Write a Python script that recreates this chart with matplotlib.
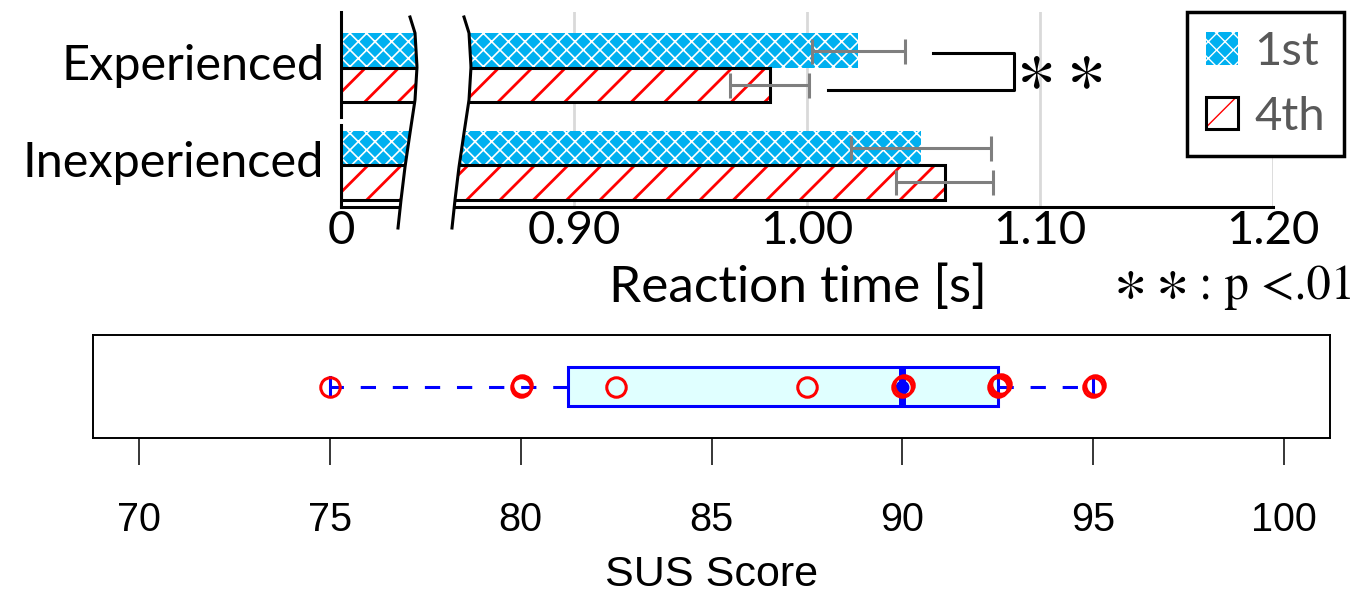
import numpy as np
import matplotlib
matplotlib.use("Agg")
import matplotlib.pyplot as plt
from matplotlib.patches import Patch, Polygon
from matplotlib.lines import Line2D
from matplotlib.legend_handler import HandlerTuple

# reaction time (top chart)
groups = ["Experienced", "Inexperienced"]
sessions = ["1st", "4th"]
rt_mean_1st = [1.022, 1.049]
rt_err_1st = [0.020, 0.030]
rt_mean_4th = [0.984, 1.059]
rt_err_4th = [0.017, 0.021]
rt_ticks = [0.90, 1.00, 1.10, 1.20]

# SUS scores (bottom chart)
sus_scores = [75, 80, 80, 82.5, 87.5, 90, 90, 92.5, 92.5, 92.5, 95, 95]
sus_ticks = [70, 75, 80, 85, 90, 95, 100]

W, H = 1360, 594


def fx(px):
    return px / W


def fy(py):
    return 1 - py / H


def fivenum(vals):
    # Tukey hinges, as R boxplot does
    x = np.sort(np.asarray(vals, dtype=float))
    n = len(x)
    n4 = np.floor((n + 3) / 2) / 2
    d = np.array([1, n4, (n + 1) / 2, n + 1 - n4, n]) - 1
    return 0.5 * (x[np.floor(d).astype(int)] + x[np.ceil(d).astype(int)])


plt.rcParams["mathtext.fontset"] = "stix"
fig = plt.figure(figsize=(W / 100, H / 100), dpi=100)

blue = "#00b0f0"
gray_txt = "#595959"
lw = 2.2
tick_fs = 34

# ---- top chart: broken x axis ----
ax_l = fig.add_axes([fx(341), fy(207), fx(420) - fx(341), fy(12) - fy(207)])
ax_r = fig.add_axes([fx(446), fy(207), fx(1273) - fx(446), fy(12) - fy(207)])

y = np.arange(len(groups))
h = 0.354
for ax in (ax_l, ax_r):
    with plt.rc_context({"hatch.linewidth": 1.2}):
        ax.barh(y - h / 2, rt_mean_1st, h, color=blue, edgecolor="white", hatch="xx", linewidth=0, zorder=2)
    with plt.rc_context({"hatch.linewidth": 2.0}):
        ax.barh(y + h / 2, rt_mean_4th, h, color="white", edgecolor="red", hatch="/", linewidth=0, zorder=2)
    ax.barh(y + h / 2, rt_mean_4th, h, color="none", edgecolor="black", linewidth=lw, zorder=3)
    ax.set_ylim(1.43, -0.573)
    ax.spines[["top", "right", "left"]].set_visible(False)
    ax.spines["bottom"].set_linewidth(lw)
    ax.tick_params(axis="x", length=0, labelsize=tick_fs, pad=2)

ax_l.set_xlim(0, 0.1)
ax_l.set_xticks([0], ["0"], family="Lato")
# category labels sit a little above the group centre in the original
ax_l.set_yticks(y - 0.06, groups, family="Lato")
ax_l.tick_params(axis="y", length=0, labelsize=35, pad=12)
# left axis line drawn in two pieces like the original
ax_l.axvline(0, 0.4615, 1, color="black", lw=lw, clip_on=False)
ax_l.axvline(0, 0, 0.4205, color="black", lw=lw, clip_on=False)

ax_r.set_xlim(0.845, 1.20)
ax_r.set_xticks(rt_ticks, [f"{t:.2f}" for t in rt_ticks], family="Lato")
ax_r.set_yticks([])
ax_r.grid(axis="x", color="#d9d9d9", lw=2)
ax_r.set_axisbelow(True)
ax_r.errorbar(rt_mean_1st, y - h / 2, xerr=rt_err_1st, fmt="none", ecolor="#7f7f7f",
              elinewidth=lw, capsize=9, capthick=lw, zorder=4)
ax_r.errorbar(rt_mean_4th, y + h / 2, xerr=rt_err_4th, fmt="none", ecolor="#7f7f7f",
              elinewidth=lw, capsize=9, capthick=lw, zorder=4)
ax_r.set_xlabel("Reaction time [s]", family="Lato", fontsize=37, va="center")
ax_r.xaxis.set_label_coords((798 - 446) / (1273 - 446), (207 - 288) / 195)

# significance bracket for experienced group
x_top = rt_mean_1st[0] + rt_err_1st[0] + 0.012
x_bot = rt_mean_4th[0] + rt_err_4th[0] + 0.008
x_br = 1.0888
y_top = y[0] - h / 2 + 0.03
y_bot = y[0] + h / 2 + 0.05
ax_r.plot([x_top, x_br, x_br, x_bot], [y_top, y_top, y_bot, y_bot], color="black", lw=lw,
          clip_on=False, zorder=5)
ax_r.text(x_br + 0.001, (y_top + y_bot) / 2 - 0.03, r"$\ast\ast$", fontsize=54, ha="left", va="center")

fig.text(fx(1355), fy(288), ": p <.01", family="STIXGeneral", fontsize=35, ha="right", va="center")
fig.text(fx(1187), fy(281), r"$\ast\ast$", fontsize=46, ha="right", va="center")

# axis break: two curved marks with white gap in between
curve_y = np.array([17, 33, 67, 100, 133, 167, 200, 228])
curve_x = np.array([410, 415, 417, 415, 410, 405, 401, 398])
yy = np.linspace(curve_y[0], curve_y[-1], 80)
xl = np.interp(yy, curve_y, curve_x)
xr = xl + 54
gap = np.vstack([np.column_stack([fx(xl), fy(yy)]), np.column_stack([fx(xr[::-1]), fy(yy[::-1])])])
fig.add_artist(Polygon(gap, closed=True, fc="white", ec="none", transform=fig.transFigure, zorder=5))
for xc in (xl, xr):
    fig.add_artist(Line2D(fx(xc), fy(yy), color="black", lw=lw, transform=fig.transFigure, zorder=6))

# legend
with plt.rc_context({"hatch.linewidth": 1.2}):
    h1 = Patch(facecolor=blue, edgecolor="white", hatch="xx", linewidth=0)
with plt.rc_context({"hatch.linewidth": 2.0}):
    h4 = (Patch(facecolor="white", edgecolor="red", hatch="/", linewidth=0),
          Patch(facecolor="none", edgecolor="black", linewidth=lw))
leg = fig.legend([h1, h4], sessions, loc="upper left", bbox_to_anchor=(fx(1187), fy(12)),
                 borderaxespad=0, handler_map={tuple: HandlerTuple(ndivide=1)},
                 prop={"family": "Lato", "size": 34},
                 handlelength=0.68, handleheight=0.68, handletextpad=0.35, labelspacing=0.48,
                 borderpad=0.4, fancybox=False, framealpha=1, edgecolor="black")
leg.get_frame().set_linewidth(2.5)
for t in leg.get_texts():
    t.set_color(gray_txt)

# ---- bottom chart: SUS boxplot ----
ax_b = fig.add_axes([fx(93), fy(438), fx(1330) - fx(93), fy(335) - fy(438)])
lo, q1, med, q3, hi = fivenum(sus_scores)
stats = [dict(med=med, q1=q1, q3=q3, whislo=lo, whishi=hi, fliers=[])]
ax_b.bxp(stats, positions=[1], widths=0.4, orientation="horizontal", patch_artist=True,
         capwidths=[0.2],
         boxprops=dict(facecolor="#e0ffff", edgecolor="blue", linewidth=lw),
         whiskerprops=dict(color="blue", linewidth=lw, linestyle=(0, (5, 5.5))),
         capprops=dict(color="blue", linewidth=lw),
         medianprops=dict(color="blue", linewidth=5))
ax_b.plot([med], [1], "o", color="blue", ms=9, zorder=4)

# small dodge so repeated scores stay visible
seen = {}
dodge = []
for v in sus_scores:
    k = seen.get(v, 0)
    seen[v] = k + 1
    dodge.append(k)
dodge = np.array(dodge)
ax_b.plot(np.array(sus_scores) + dodge * 0.04, 1 + dodge * 0.012, "o", mfc="none", mec="red",
          ms=14, mew=2.2, zorder=5)

ax_b.set_xlim(68.8, 101.2)
ax_b.set_ylim(0.46, 1.54)
ax_b.set_yticks([])
ax_b.set_xticks(sus_ticks, [str(t) for t in sus_ticks])
ax_b.tick_params(axis="x", length=19.5, width=1.1, pad=26, labelsize=28.5)
for lab in ax_b.get_xticklabels():
    lab.set_family("Liberation Sans")
for s in ax_b.spines.values():
    s.set_linewidth(1.4)
ax_b.set_xlabel("SUS Score", family="Liberation Sans", fontsize=31, va="center")
ax_b.xaxis.set_label_coords(0.5, (438 - 575) / 103)

fig.savefig("out.png", dpi=100)
